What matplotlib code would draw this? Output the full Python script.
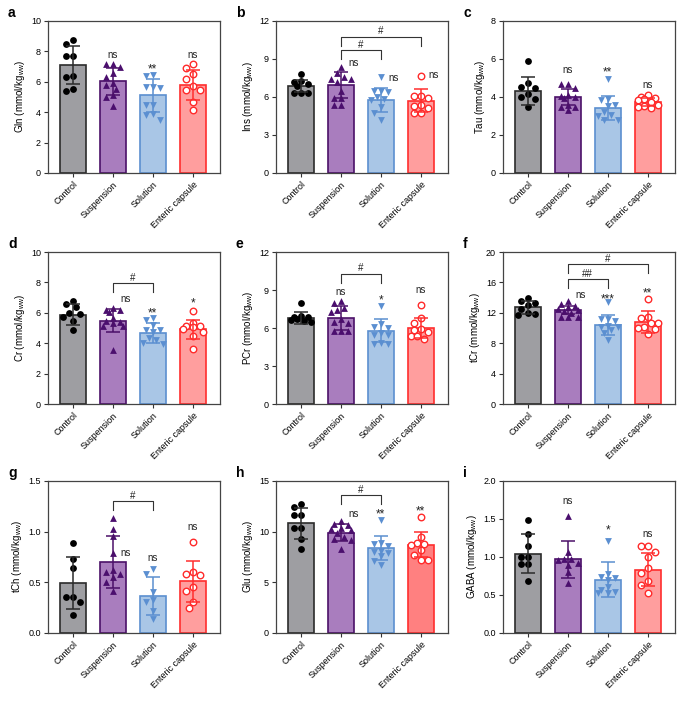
import numpy as np
import matplotlib
matplotlib.use('Agg')
import matplotlib.pyplot as plt

plt.rcParams['font.family'] = ['Liberation Sans', 'DejaVu Sans']
plt.rcParams['mathtext.default'] = 'regular'

groups = ['Control', 'Suspension', 'Solution', 'Enteric capsule']

# individual values per group (Control, Suspension, Solution, Enteric capsule)
gln_pts = [[8.5, 8.75, 7.7, 7.7, 6.4, 6.3, 5.5, 5.4],
           [7.2, 7.2, 7.0, 6.6, 6.3, 5.9, 5.8, 5.5, 5.1, 5.0, 4.4],
           [6.45, 6.35, 5.65, 5.65, 5.6, 4.5, 4.5, 3.85, 3.8, 3.5],
           [6.9, 7.15, 6.5, 6.2, 5.45, 5.7, 5.45, 4.7, 4.15]]
gln_mean = [7.1, 6.02, 5.12, 5.8]
gln_sd = [1.26, 0.92, 1.08, 0.98]

ins_pts = [[7.8, 7.25, 7.15, 7.0, 6.9, 6.35, 6.3, 6.35],
           [8.4, 7.9, 7.6, 7.45, 7.45, 7.2, 6.5, 5.9, 5.9, 5.35, 5.35],
           [7.6, 6.45, 6.5, 6.4, 5.85, 5.8, 6.0, 5.2, 4.75, 4.15],
           [7.65, 6.05, 6.1, 5.9, 5.35, 5.3, 5.1, 4.7, 4.7]]
ins_mean = [6.9, 6.96, 5.77, 5.72]
ins_sd = [0.48, 1.0, 0.98, 0.9]

tau_pts = [[5.87, 4.73, 4.52, 4.45, 4.15, 4.0, 3.9, 3.47],
           [4.7, 4.7, 4.5, 4.1, 4.05, 4.0, 3.95, 3.6, 3.5, 3.5, 3.3],
           [4.95, 3.9, 3.85, 3.6, 3.55, 3.2, 3.05, 3.0, 2.8, 2.8],
           [4.1, 4.0, 3.95, 3.9, 3.85, 3.75, 3.6, 3.55, 3.5, 3.4]]
tau_mean = [4.33, 4.0, 3.4, 3.75]
tau_sd = [0.74, 0.41, 0.63, 0.22]

cr_pts = [[6.6, 6.75, 6.35, 6.0, 5.95, 5.75, 5.45, 4.9],
          [6.2, 6.2, 6.3, 6.05, 5.65, 5.45, 5.4, 5.3, 5.1, 5.1, 3.55],
          [5.65, 5.55, 5.2, 4.9, 4.75, 4.85, 4.35, 4.2, 4.0, 3.95],
          [6.1, 5.35, 5.15, 5.1, 5.05, 4.95, 4.75, 4.5, 3.65]]
cr_mean = [5.88, 5.49, 4.66, 4.92]
cr_sd = [0.67, 0.75, 0.66, 0.63]

pcr_pts = [[7.95, 6.95, 6.9, 6.85, 6.7, 6.6, 6.55, 6.5],
           [8.1, 8.0, 7.6, 7.45, 7.25, 6.7, 6.4, 6.5, 5.75, 5.75, 5.75],
           [7.75, 6.3, 6.1, 6.0, 5.6, 5.45, 5.45, 4.8, 4.75, 4.7],
           [7.85, 6.8, 6.4, 5.9, 5.85, 5.7, 5.4, 5.4, 5.1]]
pcr_mean = [6.78, 6.8, 5.78, 5.98]
pcr_sd = [0.48, 0.92, 0.92, 0.8]

tcr_pts = [[13.9, 13.5, 13.3, 13.0, 12.5, 12.0, 11.8, 11.7],
           [13.6, 13.2, 12.9, 12.8, 12.5, 12.4, 12.3, 12.0, 11.5, 11.4, 11.4],
           [13.4, 11.2, 11.2, 10.9, 10.3, 10.1, 10.1, 9.8, 9.3, 8.4],
           [13.8, 11.5, 11.3, 10.7, 10.6, 10.1, 10.0, 9.9, 9.2]]
tcr_mean = [12.7, 12.4, 10.4, 10.8]
tcr_sd = [0.8, 0.55, 1.3, 1.4]

tch_pts = [[0.89, 0.735, 0.64, 0.355, 0.355, 0.31, 0.18],
           [1.13, 1.03, 0.96, 0.79, 0.62, 0.6, 0.58, 0.55, 0.5, 0.41],
           [0.635, 0.585, 0.4, 0.33, 0.31, 0.22, 0.14],
           [0.9, 0.6, 0.58, 0.57, 0.45, 0.41, 0.31, 0.245]]
tch_mean = [0.496, 0.70, 0.365, 0.51]
tch_sd = [0.258, 0.26, 0.185, 0.2]

glu_pts = [[12.7, 12.45, 11.65, 11.6, 10.4, 10.35, 9.3, 8.3],
           [11.05, 10.8, 10.7, 10.4, 10.3, 10.2, 9.9, 9.5, 9.3, 9.2, 8.3],
           [11.15, 8.85, 8.8, 8.6, 8.1, 7.95, 7.9, 7.6, 7.15, 6.75],
           [11.4, 9.5, 8.9, 8.8, 8.65, 8.2, 7.7, 7.25, 7.25]]
glu_mean = [10.83, 9.91, 8.4, 8.7]
glu_sd = [1.53, 0.82, 1.19, 1.24]

gaba_pts = [[1.49, 1.3, 1.15, 1.0, 1.0, 0.91, 0.91, 0.69],
            [1.54, 1.06, 0.98, 0.97, 0.96, 0.92, 0.9, 0.8, 0.66],
            [1.21, 0.78, 0.74, 0.72, 0.7, 0.6, 0.56, 0.54, 0.52, 0.52],
            [1.14, 1.14, 1.07, 1.0, 0.86, 0.79, 0.69, 0.63, 0.53]]
gaba_mean = [1.045, 0.97, 0.70, 0.835]
gaba_sd = [0.255, 0.24, 0.232, 0.216]

# significance labels: (group, text, y, placement)
gln_sig = [(1, 'ns', 7.77, 'top'), (2, '**', 7.07, 'top'), (3, 'ns', 7.77, 'top')]
ins_sig = [(1, 'ns', 8.67, 'right'), (2, 'ns', 7.48, 'right'), (3, 'ns', 7.67, 'right')]
tau_sig = [(1, 'ns', 5.39, 'top'), (2, '**', 5.52, 'top'), (3, 'ns', 4.59, 'top')]
cr_sig = [(1, 'ns', 6.86, 'right'), (2, '**', 6.24, 'top'), (3, '*', 6.86, 'top')]
pcr_sig = [(1, 'ns', 8.8, 'top'), (2, '*', 8.5, 'top'), (3, 'ns', 8.94, 'top')]
tcr_sig = [(1, 'ns', 14.3, 'right'), (2, '***', 14.3, 'top'), (3, '**', 15.0, 'top')]
tch_sig = [(1, 'ns', 0.79, 'right'), (2, 'ns', 0.74, 'top'), (3, 'ns', 1.04, 'top')]
glu_sig = [(1, 'ns', 11.7, 'right'), (2, '**', 12.1, 'top'), (3, '**', 12.4, 'top')]
gaba_sig = [(1, 'ns', 1.73, 'top'), (2, '*', 1.40, 'top'), (3, 'ns', 1.30, 'top')]

# brackets between groups: (from, to, y, text)
ins_br = [(1, 2, 9.72, '#'), (1, 3, 10.77, '#')]
cr_br = [(1, 2, 7.96, '#')]
pcr_br = [(1, 2, 10.3, '#')]
tcr_br = [(1, 2, 16.4, '##'), (1, 3, 18.4, '#')]
tch_br = [(1, 2, 1.30, '#')]
glu_br = [(1, 2, 13.6, '#')]

panels = [
    ('a', 'Gln', gln_pts, gln_mean, gln_sd, 10, 2, gln_sig, []),
    ('b', 'Ins', ins_pts, ins_mean, ins_sd, 12, 3, ins_sig, ins_br),
    ('c', 'Tau', tau_pts, tau_mean, tau_sd, 8, 2, tau_sig, []),
    ('d', 'Cr', cr_pts, cr_mean, cr_sd, 10, 2, cr_sig, cr_br),
    ('e', 'PCr', pcr_pts, pcr_mean, pcr_sd, 12, 3, pcr_sig, pcr_br),
    ('f', 'tCr', tcr_pts, tcr_mean, tcr_sd, 20, 4, tcr_sig, tcr_br),
    ('g', 'tCh', tch_pts, tch_mean, tch_sd, 1.5, 0.5, tch_sig, tch_br),
    ('h', 'Glu', glu_pts, glu_mean, glu_sd, 15, 5, glu_sig, glu_br),
    ('i', 'GABA', gaba_pts, gaba_mean, gaba_sd, 2.0, 0.5, gaba_sig, []),
]

face = ['#9e9ea2', '#a97dbe', '#a9c6e6', '#ff9e9e']
edge = ['#2b2b2b', '#4b1068', '#5b8fd0', '#ff2e2e']
mcol = ['#000000', '#4b0f6e', '#5b8fd1', '#ff2a2a']
marks = ['o', '^', 'v', 'o']

W, H = 685, 704
col_left = [48, 276, 503]
row_top = [21, 252, 481]
ax_w, ax_h = 172, 152


def swarm(vals, ymax):
    # simple deterministic beeswarm in x-units
    yscale = ax_h / ymax / 40.0
    cands = [0, -0.085, 0.085, -0.17, 0.17, -0.255, 0.255]
    placed = []
    offs = np.zeros(len(vals))
    for k in np.argsort(vals)[::-1]:
        y = vals[k] * yscale
        best, best_d = 0, -1
        for c in cands:
            d = min([np.hypot(c - px, y - py) for px, py in placed] + [9])
            if d >= 0.17:
                best = c
                break
            if d > best_d:
                best, best_d = c, d
        offs[k] = best
        placed.append((best, y))
    return offs


fig = plt.figure(figsize=(W / 100, H / 100), dpi=100)
fs = 6.5

for n, (letter, name, pts, mean, sd, ymax, step, sig, br) in enumerate(panels):
    r, c = divmod(n, 3)
    ax = fig.add_axes([col_left[c] / W, 1 - (row_top[r] + ax_h) / H, ax_w / W, ax_h / H])
    x = np.arange(4)
    fc = list(face)
    if letter == 'h':
        fc[3] = '#ff8080'
    ax.bar(x, mean, width=0.66, color=fc, edgecolor=edge, linewidth=1.2, zorder=1)
    for i in range(4):
        v = np.array(pts[i])
        xs = i + swarm(v, ymax)
        if i == 3:
            ax.scatter(xs, v, s=22, marker='o', facecolor='white', edgecolor=mcol[i],
                       linewidth=1.0, zorder=3)
        else:
            ax.scatter(xs, v, s=24, marker=marks[i], color=mcol[i], linewidth=0, zorder=3)
        ax.errorbar(i, mean[i], yerr=sd[i], color=edge[i], capsize=5, capthick=1.1,
                    elinewidth=1.1, zorder=4)

    for i, txt, y, where in sig:
        dx = 0.33 if where == 'right' else 0
        star = '*' in txt
        size = fs + 2 if star else fs + 0.5
        shift = -0.58 * size if star else -0.27 * size
        ax.annotate(txt, (i + dx, y), xytext=(0, shift), textcoords='offset points',
                    ha='center', va='baseline', fontsize=size, color='#222222')

    for i, j, y, txt in br:
        drop = 0.06 * ymax
        ax.plot([i, i, j, j], [y - drop, y, y, y - drop], color='#333333', lw=0.8)
        ax.annotate(txt, ((i + j) / 2, y), xytext=(0, 1.5), textcoords='offset points',
                    ha='center', va='baseline', fontsize=fs + 0.5, color='#222222')

    ax.set_xlim(-0.62, 3.68)
    ax.set_ylim(0, ymax)
    ax.set_yticks(np.arange(0, ymax + step / 2, step))
    if ymax <= 2:
        ax.set_yticklabels(['%.1f' % t for t in np.arange(0, ymax + step / 2, step)])
    ax.set_xticks(x)
    ax.set_xticklabels(groups, rotation=45, ha='right', rotation_mode='anchor')
    ax.tick_params(labelsize=fs, length=3, width=0.8, color='#333333', pad=2)
    for s in ax.spines.values():
        s.set_color('#444444')
        s.set_linewidth(0.9)
    ax.set_ylabel(name + r' (mmol/kg$_{ww}$)', fontsize=fs + 0.5, labelpad=3)
    fig.text((col_left[c] - 40) / W, 1 - (row_top[r] - 8) / H, letter, fontsize=10,
             fontweight='bold', va='center', ha='left')

fig.savefig('out.png', dpi=100)
